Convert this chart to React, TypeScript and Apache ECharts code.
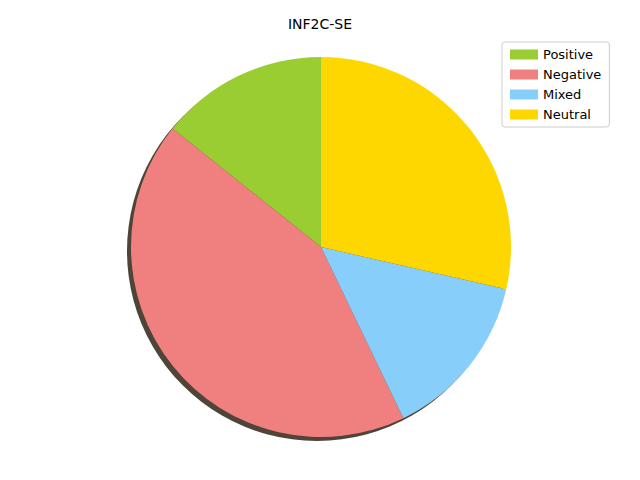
import React, { useEffect, useRef } from "react";
import * as echarts from "echarts";

const categories = ["Positive", "Negative", "Mixed", "Neutral"];
const values = [1, 3, 1, 2];
const colors = ["#9acd32", "#f08080", "#87cefa", "#ffd700"];

const App: React.FC = () => {
  const chartRef = useRef<HTMLDivElement>(null);

  useEffect(() => {
    if (!chartRef.current) return;
    document.body.style.margin = "0";
    const chart = echarts.init(chartRef.current, undefined, { renderer: "svg" });

    chart.setOption({
      animation: false,
      backgroundColor: "#fff",
      title: {
        text: "INF2C-SE",
        left: "center",
        top: 12,
        textStyle: { fontFamily: "DejaVu Sans", fontSize: 14, fontWeight: "normal", color: "#000" },
      },
      legend: {
        orient: "vertical",
        left: 502,
        top: 42,
        padding: [6, 8],
        itemGap: 7,
        itemWidth: 28,
        itemHeight: 10,
        icon: "rect",
        borderColor: "#ccc",
        borderWidth: 1,
        borderRadius: 3,
        backgroundColor: "#fff",
        textStyle: { fontFamily: "DejaVu Sans", fontSize: 13, color: "#000" },
        data: categories,
      },
      series: [
        {
          type: "pie",
          silent: true,
          center: [317, 251],
          radius: 190,
          label: { show: false },
          labelLine: { show: false },
          itemStyle: { color: "#4f4438" },
          data: [{ value: 1, name: "_shadow" }],
        },
        {
          type: "pie",
          center: [321, 247],
          radius: 190,
          startAngle: 90,
          clockwise: false,
          label: { show: false },
          labelLine: { show: false },
          itemStyle: { borderWidth: 0 },
          data: categories.map((c, i) => ({
            name: c,
            value: values[i],
            itemStyle: { color: colors[i] },
          })),
        },
      ],
    });

    return () => chart.dispose();
  }, []);

  return <div ref={chartRef} style={{ width: 640, height: 480 }} />;
};

export default App;
